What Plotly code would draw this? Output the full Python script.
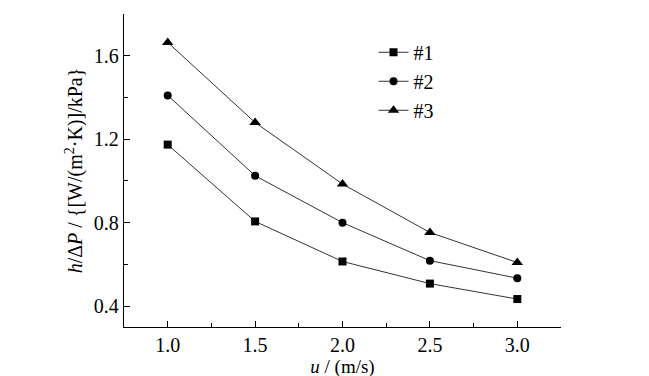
import plotly.graph_objects as go

u = [1.0, 1.5, 2.0, 2.5, 3.0]
s1 = [1.174, 0.806, 0.614, 0.508, 0.434]
s2 = [1.41, 1.025, 0.80, 0.618, 0.534]
s3 = [1.664, 1.28, 0.985, 0.753, 0.609]
names = ["#1", "#2", "#3"]
symbols = ["square", "circle", "triangle-up"]
sizes = [8, 8, 10]
x_ticks = [1.0, 1.5, 2.0, 2.5, 3.0]
x_labels = ["1.0", "1.5", "2.0", "2.5", "3.0"]
y_ticks = [0.4, 0.8, 1.2, 1.6]
y_labels = ["0.4", "0.8", "1.2", "1.6"]

FONT = "Liberation Serif"

fig = go.Figure()
for ys, nm, sym, sz in zip([s1, s2, s3], names, symbols, sizes):
    fig.add_trace(go.Scatter(
        x=u, y=ys, name=nm, mode="lines+markers",
        line=dict(color="#333333", width=1),
        marker=dict(symbol=sym, size=sz, color="black"),
    ))

axis_common = dict(
    showline=True, linecolor="black", linewidth=1.3,
    ticks="inside", ticklen=6, tickwidth=1.3, tickcolor="black",
    showgrid=False, zeroline=False, mirror=False, automargin=False,
)

fig.update_xaxes(
    range=[0.75, 3.25], tickvals=x_ticks, ticktext=x_labels,
    minor=dict(ticks="inside", ticklen=4, tickwidth=1.2, tickcolor="black",
               tickvals=[1.25, 1.75, 2.25, 2.75, 3.25], showgrid=False),
    title=dict(text="<i>u</i> / (m/s)", font=dict(size=19), standoff=0),
    **axis_common,
)
fig.update_yaxes(
    range=[0.3, 1.8], tickvals=y_ticks, ticktext=y_labels,
    minor=dict(ticks="inside", ticklen=4, tickwidth=1.2, tickcolor="black",
               tickvals=[0.6, 1.0, 1.4, 1.8], showgrid=False),
    title=dict(text="<i>h</i>/Δ<i>P</i> / {[W/(m<sup>2</sup>·K)]/kPa}",
               font=dict(size=20), standoff=5),
    **axis_common,
)

fig.update_layout(
    template="none",
    width=641, height=376,
    margin=dict(l=116, r=88, t=6, b=57),
    paper_bgcolor="white", plot_bgcolor="white",
    showlegend=True,
    legend=dict(x=0.571, y=0.94, xanchor="left", yanchor="top",
                bgcolor="rgba(0,0,0,0)", borderwidth=0,
                tracegroupgap=0, itemwidth=30),
    font=dict(family=FONT, size=20, color="black"),
)

post = (
    "var st = document.createElement('style');"
    "st.textContent = '.main-svg text, .main-svg tspan "
    "{ font-family: \"Liberation Serif\", \"Times New Roman\", serif !important; }';"
    "document.head.appendChild(st);"
)

fig.write_html("out.html", post_script=post)
